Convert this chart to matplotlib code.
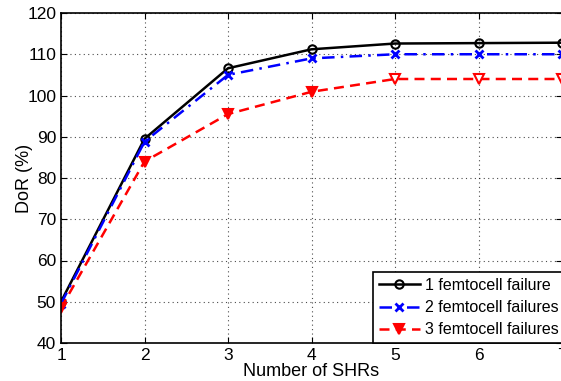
import matplotlib
matplotlib.use("Agg")
import matplotlib.pyplot as plt

plt.rcParams['font.family'] = ['Liberation Sans', 'DejaVu Sans']

# number of SHRs and DoR values (%)
shrs = [1, 2, 3, 4, 5, 6, 7]
fail_1 = [50.0, 89.5, 106.6, 111.2, 112.6, 112.7, 112.8]
fail_2 = [49.5, 88.8, 105.0, 109.0, 110.0, 110.0, 110.0]
fail_3 = [48.5, 84.0, 95.5, 100.9, 104.0, 104.0, 104.0]

fig = plt.figure(figsize=(5.61, 3.81), dpi=100)
ax = fig.add_axes([61 / 561, 38 / 381, 501 / 561, 330 / 381])

ax.plot(shrs, fail_1, 'k-', marker='o', mfc='none', mew=1.5, ms=6, lw=1.8,
        label='1 femtocell failure')
ax.plot(shrs, fail_2, 'b-.', marker='x', mew=2, ms=6, lw=1.8,
        dashes=(5, 2.5, 1, 2.5), label='2 femtocell failures')
ax.plot(shrs, fail_3, 'r--', marker='v', mfc='r', mew=1.5, ms=7, lw=1.8,
        dashes=(4, 2.5), markevery=[0, 1, 2, 3], label='3 femtocell failures')
# last three red markers look hollow in the original
ax.plot(shrs[4:], fail_3[4:], 'v', color='r', mfc='white', mew=1.5, ms=7)

ax.set_xlim(1, 7)
ax.set_ylim(40, 120)
ax.set_xticks(shrs)
ax.set_yticks(range(40, 121, 10))
ax.grid(True, linestyle=(0, (1, 3)), color='black', linewidth=0.8, alpha=0.7)
ax.tick_params(direction='in', top=True, right=True, labelsize=12.5, length=4)
for s in ax.spines.values():
    s.set_linewidth(1.2)

ax.set_xlabel('Number of SHRs', fontsize=13, labelpad=0)
ax.set_ylabel('DoR (%)', fontsize=13, labelpad=-4)

leg = ax.legend(loc='lower left', bbox_to_anchor=(373 / 561, 38 / 381),
                bbox_transform=fig.transFigure, fontsize=11.5, frameon=True,
                fancybox=False, edgecolor='black', framealpha=1,
                handlelength=2.6, labelspacing=0.45, borderpad=0.35,
                handletextpad=0.3, borderaxespad=0)
leg.get_frame().set_linewidth(1.2)

fig.savefig('out.png', dpi=100)
